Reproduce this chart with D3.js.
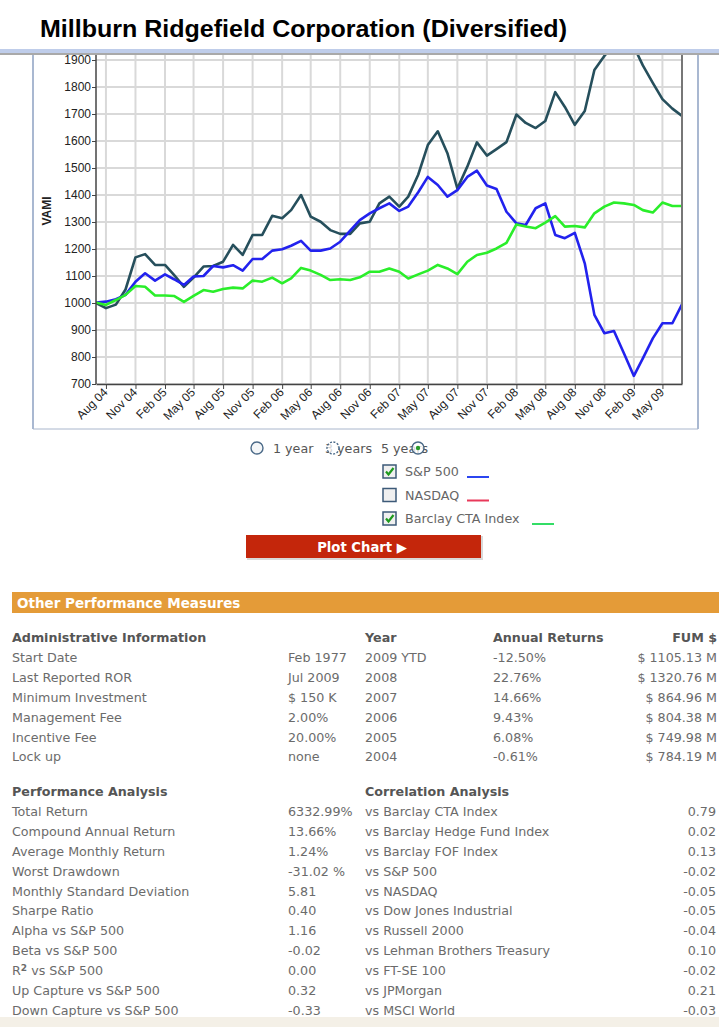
<!DOCTYPE html>
<html>
<head>
<meta charset="utf-8">
<script src="https://cdn.jsdelivr.net/npm/d3@7"></script>
<style>
  html, body { margin: 0; padding: 0; background: #fff; }
  svg { display: block; }
</style>
</head>
<body>
<svg id="page" width="719" height="1027"></svg>
<script>
const title = 'Millburn Ridgefield Corporation (Diversified)';
const firstMonth = '2004-07';

// VAMI, monthly Jul 04 .. Jul 09
const fundVami = [
  1000, 981, 994, 1050, 1169, 1181,
  1141, 1141, 1104, 1060, 1094, 1135, 1137, 1153, 1215, 1178, 1252, 1252,
  1323, 1314, 1344, 1400, 1320, 1301, 1270, 1256, 1256, 1295, 1301, 1369,
  1394, 1357, 1394, 1475, 1585, 1636, 1555, 1424, 1505, 1595, 1546, 1570,
  1596, 1698, 1667, 1648, 1674, 1781, 1726, 1660, 1711, 1863, 1915, 1955,
  1975, 1950, 1880, 1815, 1755, 1720, 1693
];
const sp500Vami = [
  1002, 1005, 1014, 1030, 1079, 1110,
  1083, 1106, 1088, 1067, 1098, 1100, 1137, 1132, 1140, 1120, 1163, 1163,
  1194, 1199, 1212, 1230, 1194, 1194, 1202, 1227, 1268, 1307, 1332, 1351,
  1369, 1341, 1357, 1410, 1467, 1437, 1394, 1418, 1467, 1490, 1435, 1422,
  1338, 1295, 1289, 1351, 1369, 1252, 1240, 1260, 1147, 956, 888, 896,
  814, 730, 795, 869, 925, 925, 995
];
const ctaVami = [
  1002, 993, 1011, 1030, 1063, 1060,
  1028, 1028, 1026, 1004, 1026, 1048, 1042, 1052, 1057, 1054, 1083, 1079,
  1094, 1073, 1091, 1130, 1120, 1104, 1085, 1088, 1085, 1095, 1116, 1116,
  1128, 1116, 1091, 1106, 1120, 1141, 1128, 1107, 1153, 1178, 1186, 1202,
  1223, 1291, 1283, 1277, 1298, 1322, 1283, 1285, 1280, 1332, 1357, 1372,
  1369, 1363, 1344, 1335, 1372, 1359, 1359
];

const yTicks = [700, 800, 900, 1000, 1100, 1200, 1300, 1400, 1500, 1600, 1700, 1800, 1900];
const xTickLabels = ['Aug 04', 'Nov 04', 'Feb 05', 'May 05', 'Aug 05', 'Nov 05', 'Feb 06', 'May 06',
  'Aug 06', 'Nov 06', 'Feb 07', 'May 07', 'Aug 07', 'Nov 07', 'Feb 08', 'May 08', 'Aug 08',
  'Nov 08', 'Feb 09', 'May 09'];

const periodOptions = ['1 year', '3 years', '5 years'];
const legendNames = ['S&P 500', 'NASDAQ', 'Barclay CTA Index'];
const legendChecked = [true, false, true];
const legendColors = ['#2b45f0', '#e8395a', '#33dd66'];

const adminLabels = ['Start Date', 'Last Reported ROR', 'Minimum Investment', 'Management Fee', 'Incentive Fee', 'Lock up'];
const adminValues = ['Feb 1977', 'Jul 2009', '$ 150 K', '2.00%', '20.00%', 'none'];
const yearLabels = ['2009 YTD', '2008', '2007', '2006', '2005', '2004'];
const annualReturns = ['-12.50%', '22.76%', '14.66%', '9.43%', '6.08%', '-0.61%'];
const fumValues = ['$ 1105.13 M', '$ 1320.76 M', '$ 864.96 M', '$ 804.38 M', '$ 749.98 M', '$ 784.19 M'];
const perfLabels = ['Total Return', 'Compound Annual Return', 'Average Monthly Return', 'Worst Drawdown',
  'Monthly Standard Deviation', 'Sharpe Ratio', 'Alpha vs S&P 500', 'Beta vs S&P 500', 'R2 vs S&P 500',
  'Up Capture vs S&P 500', 'Down Capture vs S&P 500'];
const perfValues = ['6332.99%', '13.66%', '1.24%', '-31.02 %', '5.81', '0.40', '1.16', '-0.02', '0.00', '0.32', '-0.33'];
const corrLabels = ['vs Barclay CTA Index', 'vs Barclay Hedge Fund Index', 'vs Barclay FOF Index', 'vs S&P 500',
  'vs NASDAQ', 'vs Dow Jones Industrial', 'vs Russell 2000', 'vs Lehman Brothers Treasury', 'vs FT-SE 100',
  'vs JPMorgan', 'vs MSCI World'];
const corrValues = ['0.79', '0.02', '0.13', '-0.02', '-0.05', '-0.05', '-0.04', '0.10', '-0.02', '0.21', '-0.03'];

const svg = d3.select('#page');
const sans = 'Liberation Sans, Arial, sans-serif';
const verdana = 'DejaVu Sans, Verdana, sans-serif';
const bodySize = 12.7;

// title + separator
svg.append('text')
  .attr('x', 40).attr('y', 37)
  .attr('font-family', sans).attr('font-weight', 'bold').attr('font-size', 24)
  .attr('textLength', 527).attr('lengthAdjust', 'spacingAndGlyphs')
  .text(title);
svg.append('rect').attr('x', 0).attr('y', 49).attr('width', 719).attr('height', 4).attr('fill', '#bfcdea');
svg.append('line').attr('x1', 0).attr('x2', 719).attr('y1', 54).attr('y2', 54)
  .attr('stroke', '#8c8c8c').attr('stroke-width', 1.5);

// chart panel sides
svg.append('line').attr('x1', 33).attr('x2', 33).attr('y1', 55).attr('y2', 429).attr('stroke', '#8da0c2').attr('stroke-width', 1.5);
svg.append('line').attr('x1', 698).attr('x2', 698).attr('y1', 55).attr('y2', 429).attr('stroke', '#8da0c2').attr('stroke-width', 1.5);
svg.append('line').attr('x1', 33).attr('x2', 698).attr('y1', 429).attr('y2', 429).attr('stroke', '#a9b6cc').attr('stroke-width', 1);

// scales
const parseMonth = d3.timeParse('%Y-%m');
const start = parseMonth(firstMonth);
const months = fundVami.map((_, i) => d3.timeMonth.offset(start, i));
const tickDates = xTickLabels.map(d3.timeParse('%b %y'));

const plot = { left: 96, right: 682, top: 55, bottom: 384 };
const x = d3.scaleTime().domain([months[0], months[months.length - 1]]).range([plot.left, plot.right]);
const y = d3.scaleLinear().domain([700, 1900]).range([plot.bottom, 60]);

svg.append('clipPath').attr('id', 'clip')
  .append('rect').attr('x', plot.left).attr('y', plot.top)
  .attr('width', plot.right - plot.left).attr('height', plot.bottom - plot.top);

// grid
const grid = svg.append('g').attr('clip-path', 'url(#clip)');
grid.selectAll('.hgrid').data(yTicks.concat([2000])).join('line')
  .attr('x1', plot.left).attr('x2', plot.right)
  .attr('y1', d => y(d)).attr('y2', d => y(d))
  .attr('stroke', '#d9d9d9').attr('stroke-width', 2);
grid.selectAll('.vgrid').data(tickDates).join('line')
  .attr('x1', d => x(d)).attr('x2', d => x(d))
  .attr('y1', plot.top).attr('y2', plot.bottom)
  .attr('stroke', '#d9d9d9').attr('stroke-width', 2);

// series
const line = d3.line().x((d, i) => x(months[i])).y(d => y(d));
const series = [
  { values: fundVami, color: '#264f5c' },
  { values: sp500Vami, color: '#2222ee' },
  { values: ctaVami, color: '#2aee2a' }
];
svg.append('g').attr('clip-path', 'url(#clip)')
  .selectAll('path').data(series).join('path')
  .attr('d', d => line(d.values))
  .attr('fill', 'none')
  .attr('stroke', d => d.color)
  .attr('stroke-width', 2.6)
  .attr('stroke-linejoin', 'round');

// right border of plot
svg.append('line').attr('x1', plot.right).attr('x2', plot.right).attr('y1', plot.top).attr('y2', plot.bottom)
  .attr('stroke', '#777').attr('stroke-width', 2);

// axes
const yAxis = svg.append('g')
  .attr('transform', `translate(${plot.left},0)`)
  .call(d3.axisLeft(y).tickValues(yTicks).tickFormat(d3.format('d')).tickSize(4).tickSizeOuter(0));
yAxis.select('.domain').attr('d', `M0,${plot.top}V${plot.bottom}`).attr('stroke', '#444').attr('stroke-width', 1.5);
yAxis.selectAll('.tick line').attr('stroke', '#444');
yAxis.selectAll('.tick text').attr('font-family', sans).attr('font-size', 12).attr('fill', '#222').attr('x', -5);

const xAxis = svg.append('g')
  .attr('transform', `translate(0,${plot.bottom})`)
  .call(d3.axisBottom(x).tickValues(tickDates).tickFormat(d3.timeFormat('%b %y')).tickSize(5).tickSizeOuter(0));
xAxis.select('.domain').attr('stroke', '#444').attr('stroke-width', 1.5);
xAxis.selectAll('.tick line').attr('stroke', '#444');
xAxis.selectAll('.tick text')
  .attr('font-family', sans).attr('font-size', 12).attr('fill', '#222')
  .attr('text-anchor', 'end').attr('dy', 0).attr('y', 0)
  .attr('transform', 'translate(2,9) rotate(-45)');

svg.append('text')
  .attr('transform', 'translate(51,211) rotate(-90)')
  .attr('text-anchor', 'middle')
  .attr('font-family', sans).attr('font-weight', 'bold').attr('font-size', 12).attr('fill', '#222')
  .text('VAMI');

// period radios
const radioText = [273, 325, 381];
const radioCircle = [257, 333, 418];
svg.selectAll('.ptext').data(periodOptions).join('text')
  .attr('x', (d, i) => radioText[i]).attr('y', 453)
  .attr('font-family', verdana).attr('font-size', bodySize).attr('fill', '#555')
  .text(d => d);
svg.selectAll('.pradio').data(periodOptions).join('circle')
  .attr('cx', (d, i) => radioCircle[i]).attr('cy', 448).attr('r', 6)
  .attr('fill', (d, i) => i === 0 ? '#f4f6f8' : 'rgba(255,255,255,0.75)')
  .attr('stroke', '#4b6a88').attr('stroke-width', 1.4)
  .attr('stroke-dasharray', (d, i) => i === 1 ? '2,1.5' : null);
svg.append('circle').attr('cx', radioCircle[2]).attr('cy', 448).attr('r', 2.2).attr('fill', '#2a9a2a');

// series checkboxes
const legend = svg.selectAll('.legend').data(legendNames).join('g')
  .attr('transform', (d, i) => `translate(383,${465 + i * 23.5})`);
legend.append('rect')
  .attr('width', 13).attr('height', 13)
  .attr('fill', '#f0f0f0').attr('stroke', '#3d5a78').attr('stroke-width', 1.5);
legend.filter((d, i) => legendChecked[i]).append('path')
  .attr('d', 'M3,6.5 L5.5,9.5 L10.5,3')
  .attr('fill', 'none').attr('stroke', '#1e9a1e').attr('stroke-width', 2.2);
legend.append('text')
  .attr('x', 22).attr('y', 11)
  .attr('font-family', verdana).attr('font-size', bodySize).attr('fill', '#666')
  .text(d => d);
const legendLineX = [84, 84, 149];
legend.append('line')
  .attr('x1', (d, i) => legendLineX[i]).attr('x2', (d, i) => legendLineX[i] + 22)
  .attr('y1', 12).attr('y2', 12)
  .attr('stroke', (d, i) => legendColors[i]).attr('stroke-width', 2);

// Plot Chart button
svg.append('rect').attr('x', 247).attr('y', 536).attr('width', 236).attr('height', 24).attr('fill', '#d9d9d9');
svg.append('rect').attr('x', 246).attr('y', 535).attr('width', 235).attr('height', 23).attr('fill', '#c4260b');
svg.append('text').attr('x', 362).attr('y', 551.5)
  .attr('text-anchor', 'middle')
  .attr('font-family', verdana).attr('font-weight', 'bold').attr('font-size', 13.2).attr('fill', '#fff')
  .text('Plot Chart \u25B6');

// Other Performance Measures
svg.append('rect').attr('x', 12).attr('y', 592).attr('width', 707).attr('height', 21).attr('fill', '#e49b38');
svg.append('text').attr('x', 17).attr('y', 608)
  .attr('font-family', verdana).attr('font-weight', 'bold').attr('font-size', 13.5).attr('fill', '#fff')
  .text('Other Performance Measures');

const headStyle = sel => sel.attr('font-family', verdana).attr('font-weight', 'bold').attr('font-size', bodySize).attr('fill', '#555');
const bodyStyle = sel => sel.attr('font-family', verdana).attr('font-size', bodySize).attr('fill', '#6b6b6b');

function column(data, xPos, y0, step, anchor) {
  svg.append('g').selectAll('text').data(data).join('text')
    .attr('x', xPos).attr('y', (d, i) => y0 + i * step)
    .attr('text-anchor', anchor || 'start')
    .call(bodyStyle)
    .text(d => d);
}

const top1 = 642, top2 = 796, rowStep = 19.9;
[['Administrative Information', 12, 'start'], ['Year', 365, 'start'], ['Annual Returns', 493, 'start'], ['FUM $', 717, 'end']]
  .forEach(h => svg.append('text').attr('x', h[1]).attr('y', top1).attr('text-anchor', h[2]).call(headStyle).text(h[0]));
column(adminLabels, 12, top1 + rowStep, rowStep);
column(adminValues, 288, top1 + rowStep, rowStep);
column(yearLabels, 365, top1 + rowStep, rowStep);
column(annualReturns, 493, top1 + rowStep, rowStep);
column(fumValues, 717, top1 + rowStep, rowStep, 'end');

[['Performance Analysis', 12], ['Correlation Analysis', 365]]
  .forEach(h => svg.append('text').attr('x', h[1]).attr('y', top2).call(headStyle).text(h[0]));
svg.append('g').selectAll('text').data(perfLabels).join('text')
  .attr('x', 12).attr('y', (d, i) => top2 + (i + 1) * rowStep)
  .call(bodyStyle)
  .each(function(d) {
    const t = d3.select(this);
    if (d.startsWith('R2')) {
      t.append('tspan').text('R');
      t.append('tspan').attr('dy', -4).attr('font-size', 9).attr('font-weight', 'bold').text('2');
      t.append('tspan').attr('dy', 4).text(d.slice(2));
    } else {
      t.text(d);
    }
  });
column(perfValues, 288, top2 + rowStep, rowStep);
column(corrLabels, 365, top2 + rowStep, rowStep);
column(corrValues, 716, top2 + rowStep, rowStep, 'end');

svg.append('rect').attr('x', 0).attr('y', 1017).attr('width', 719).attr('height', 10).attr('fill', '#f4f0e7');
</script>
</body>
</html>
